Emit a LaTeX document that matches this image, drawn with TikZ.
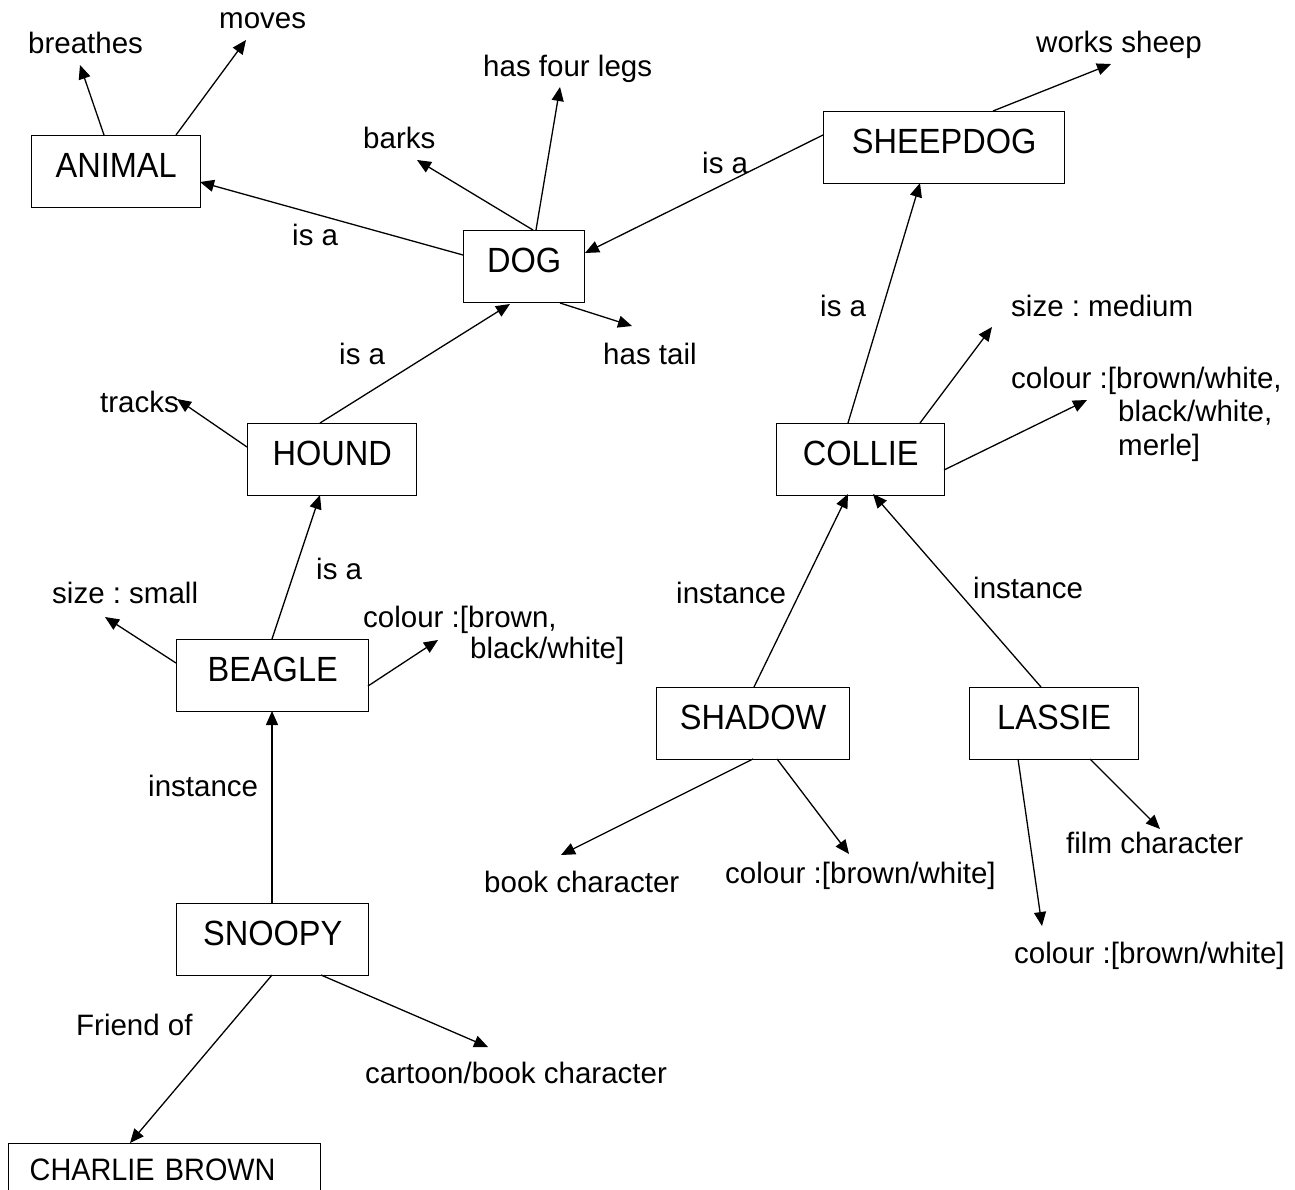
\documentclass[tikz,border=0pt]{standalone}
\usepackage{fontspec}
\setmainfont{Liberation Sans}
\newfontfamily\conceptfont[FakeStretch=0.93]{Liberation Sans}
\usetikzlibrary{arrows.meta,calc}

\tikzset{
  concept/.style={draw, line width=1.4pt, inner sep=0pt, anchor=north west,
    minimum height=72pt, text height=25pt, text depth=13pt,
    font=\conceptfont\fontsize{35}{42}\selectfont},
  lbl/.style={inner sep=0pt, anchor=base west, font=\fontsize{29.5}{35}\selectfont},
  rel/.style={line width=1.3pt, -{Triangle[length=14pt,width=12pt]}}
}

\begin{document}
\frenchspacing
\begin{tikzpicture}[x=1pt,y=-1pt]
\clip (0,0) rectangle (1295,1189);

% concept boxes
\node[concept, minimum width=169pt] (animal)   at (31,135)  {ANIMAL};
\node[concept, minimum width=121pt] (dog)      at (463,230) {DOG};
\node[concept, minimum width=241pt] (sheepdog) at (823,111) {SHEEPDOG};
\node[concept, minimum width=169pt] (hound)    at (247,423) {HOUND};
\node[concept, minimum width=168pt] (collie)   at (776,423) {COLLIE};
\node[concept, minimum width=192pt] (beagle)   at (176,639) {BEAGLE};
\node[concept, minimum width=193pt] (shadow)   at (656,687) {SHADOW};
\node[concept, minimum width=169pt] (lassie)   at (969,687) {LASSIE};
\node[concept, minimum width=192pt] (snoopy)   at (176,903) {SNOOPY};
\node[concept, minimum width=312pt, minimum height=62pt, text width=270pt,
      align=left, inner xsep=21pt, font=\conceptfont\fontsize{31}{37}\selectfont]
      (charlie) at (8,1143) {CHARLIE BROWN};

% property and relation texts
\node[lbl] (tBreathes) at (28,53)    {breathes};
\node[lbl] (tMoves)    at (219,28)   {moves};
\node[lbl] (tIsaA)     at (292,245)  {is a};
\node[lbl] (tBarks)    at (363,148)  {barks};
\node[lbl] (tLegs)     at (483,76)   {has four legs};
\node[lbl] (tIsaS)     at (702,173)  {is a};
\node[lbl] (tTail)     at (603,364)  {has tail};
\node[lbl] (tWorks)    at (1036,52)  {works sheep};
\node[lbl] (tIsaC)     at (820,316)  {is a};
\node[lbl] (tSizeM)    at (1011,316) {size : medium};
\node[lbl] (tColC1)    at (1011,388) {colour :[brown/white,};
\node[lbl] (tColC2)    at (1118,421) {black/white,};
\node[lbl] (tColC3)    at (1118,455) {merle]};
\node[lbl] (tTracks)   at (100,412)  {tracks};
\node[lbl] (tIsaH)     at (339,364)  {is a};
\node[lbl] (tIsaB)     at (316,579)  {is a};
\node[lbl] (tSizeS)    at (52,603)   {size : small};
\node[lbl] (tColB1)    at (363,627)  {colour :[brown,};
\node[lbl] (tColB2)    at (470,658)  {black/white]};
\node[lbl] (tInstB)    at (148,796)  {instance};
\node[lbl] (tInstS)    at (676,603)  {instance};
\node[lbl] (tInstL)    at (973,598)  {instance};
\node[lbl] (tBook)     at (484,892)  {book character};
\node[lbl] (tColS)     at (725,883)  {colour :[brown/white]};
\node[lbl] (tFilm)     at (1066,853) {film character};
\node[lbl] (tColL)     at (1014,963) {colour :[brown/white]};
\node[lbl] (tFriend)   at (76,1035)  {Friend of};
\node[lbl] (tCartoon)  at (365,1083) {cartoon/book character};

% free arrow ends next to the property texts
\coordinate (pBreathes) at (80,65);
\coordinate (pMoves)    at (246,40);
\coordinate (pBarks)    at (417,160);
\coordinate (pLegs)     at (560,87);
\coordinate (pWorks)    at (1111,64);
\coordinate (pTail)     at (632,326);
\coordinate (pTracks)   at (177,399);
\coordinate (pSizeS)    at (105,617);
\coordinate (pColB)     at (438,640);
\coordinate (pCartoon)  at (488,1047);
\coordinate (pSizeM)    at (992,327);
\coordinate (pColC)     at (1087,400);
\coordinate (pBook)     at (561,855);
\coordinate (pColS)     at (849,854);
\coordinate (pColL)     at (1042,926);
\coordinate (pFilm)     at (1160,829);

% ANIMAL
\draw[rel] ($(animal.north west)+(73,0)$)  -- (pBreathes);
\draw[rel] ($(animal.north west)+(145,0)$) -- (pMoves);
% DOG
\draw[rel] ($(dog.north west)+(0,25)$) -- ($(animal.north west)+(169,47)$);
\draw[rel] ($(dog.north west)+(70,0)$) -- (pBarks);
\draw[rel] ($(dog.north west)+(73,0)$) -- (pLegs);
\draw[rel] ($(dog.north west)+(97,73)$) -- (pTail);
% SHEEPDOG
\draw[rel] ($(sheepdog.north west)+(0,24)$) -- ($(dog.north west)+(122,23)$);
\draw[rel] ($(sheepdog.north west)+(170,0)$) -- (pWorks);
% HOUND
\draw[rel] ($(hound.north west)+(73,0)$) -- ($(dog.north west)+(47,74)$);
\draw[rel] ($(hound.north west)+(0,24)$) -- (pTracks);
% BEAGLE
\draw[rel] ($(beagle.north west)+(96,0)$) -- ($(hound.north west)+(73,72)$);
\draw[rel] ($(beagle.north west)+(0,24)$) -- (pSizeS);
\draw[rel] ($(beagle.north west)+(192,47)$) -- (pColB);
% SNOOPY
\draw[rel] ($(snoopy.north west)+(96,0)$) -- ($(beagle.north west)+(96,72)$);
\draw[rel] ($(snoopy.north west)+(96,72)$) -- ($(charlie.north west)+(122,0)$);
\draw[rel] ($(snoopy.north west)+(145,72)$) -- (pCartoon);
% COLLIE
\draw[rel] ($(collie.north west)+(72,0)$) -- ($(sheepdog.north west)+(97,72)$);
\draw[rel] ($(collie.north west)+(144,0)$) -- (pSizeM);
\draw[rel] ($(collie.north west)+(168,47)$) -- (pColC);
% SHADOW and LASSIE
\draw[rel] ($(shadow.north west)+(98,0)$) -- ($(collie.north west)+(72,71)$);
\draw[rel] ($(lassie.north west)+(72,0)$) -- ($(collie.north west)+(97,71)$);
\draw[rel] ($(shadow.north west)+(97,72)$) -- (pBook);
\draw[rel] ($(shadow.north west)+(121,72)$) -- (pColS);
\draw[rel] ($(lassie.north west)+(49,72)$) -- (pColL);
\draw[rel] ($(lassie.north west)+(121,72)$) -- (pFilm);
\end{tikzpicture}
\end{document}
